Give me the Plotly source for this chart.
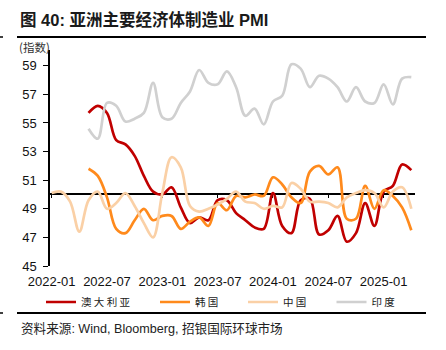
import plotly.graph_objects as go

months = [f"{y}-{m:02d}" for y in (2022, 2023, 2024, 2025) for m in range(1, 13)][:40]

australia = [None, None, None, None,
             55.7, 56.2, 55.7, 53.8, 53.5, 52.7, 51.3, 50.2,
             50.0, 50.5, 49.1, 48.0, 48.4, 48.2, 49.6, 49.6, 48.7, 48.2, 47.7, 47.6,
             50.1, 47.8, 47.3, 49.6, 49.7, 47.2, 47.5, 48.5, 46.7, 47.3, 49.4, 47.8,
             50.2, 50.6, 52.1, 51.7]
korea = [None, None, None, None,
         51.8, 51.3, 49.8, 47.6, 47.3, 48.2, 49.0, 48.2,
         48.5, 48.5, 47.6, 48.1, 48.4, 47.8, 49.4, 48.9, 49.9, 49.8, 50.0, 49.9,
         51.2, 50.7, 49.8, 49.4, 51.6, 52.0, 51.4, 51.9, 48.3, 48.3, 50.6, 49.0,
         50.3, 49.9, 49.1, 47.5]
china = [50.1, 50.2, 49.5, 47.4, 49.6, 50.2, 49.0, 49.4, 50.1, 49.2, 48.0, 47.0,
         50.1, 52.6, 51.9, 49.2, 48.8, 49.0, 49.3, 49.7, 50.2, 49.5, 49.4, 49.0,
         49.2, 49.1, 50.8, 50.4, 49.5, 49.5, 49.4, 49.1, 49.8, 50.1, 50.3, 50.1,
         49.1, 50.2, 50.5, 49.0]
india = [None, None, None, None,
         54.6, 53.9, 56.4, 56.2, 55.1, 55.3, 55.7, 57.8,
         55.4, 55.3, 56.4, 57.2, 58.7, 57.8, 57.7, 58.6, 57.5, 55.5, 56.0, 54.9,
         56.5, 56.9, 59.1, 58.8, 57.5, 58.3, 58.1, 57.5, 56.5, 57.5, 56.5, 56.4,
         57.7, 56.3, 58.1, 58.2]

series_names = ["澳大利亚", "韩国", "中国", "印度"]
series_values = [australia, korea, china, india]
series_colors = ["#C00000", "#FF8A1C", "#FAD0A6", "#D0D0D0"]

tick_labels = ["2022-01", "2022-07", "2023-01", "2023-07", "2024-01", "2024-07", "2025-01"]
y_ticks = [45, 47, 49, 51, 53, 55, 57, 59]

title_text = "<b>图 40: 亚洲主要经济体制造业 PMI</b>"
unit_text = "(指数)"
source_text = "资料来源: Wind, Bloomberg, 招银国际环球市场"

W, H = 446, 350
L, R, T, B = 50, 31, 50, 84
pw, ph = W - L - R, H - T - B


def px(x):
    return (x - L) / pw


def py(y):
    return (H - B - y) / ph


cjk = "Noto Sans CJK SC, Liberation Sans, sans-serif"
legend_ids = ["legend", "legend2", "legend3", "legend4"]
legend_x = [41, 155, 243, 331.5]

fig = go.Figure()
for name, vals, col, lid in zip(series_names, series_values, series_colors, legend_ids):
    fig.add_trace(go.Scatter(
        x=months, y=vals, name=" ".join(name), mode="lines", legend=lid,
        line=dict(color=col, width=2.7, shape="spline", smoothing=1.0),
        connectgaps=False, hoverinfo="skip"))

# invisible trace to host the axis drawn at y = 50
fig.add_trace(go.Scatter(x=months, y=china, xaxis="x2", yaxis="y", mode="lines",
                         line=dict(width=0, color="rgba(0,0,0,0)"),
                         showlegend=False, hoverinfo="skip"))

tick_font = dict(family="Liberation Sans, Arial, sans-serif", size=13, color="#111")

legends = {}
for lid, lx in zip(legend_ids, legend_x):
    legends[lid] = dict(orientation="h", x=px(lx), xanchor="left", y=py(302), yanchor="middle",
                        font=dict(family=cjk, size=10.5, color="#222"),
                        bgcolor="rgba(0,0,0,0)", borderwidth=0)

fig.update_layout(
    width=W, height=H,
    margin=dict(l=L, r=R, t=T, b=B),
    paper_bgcolor="white", plot_bgcolor="white",
    title=dict(text=title_text, x=20 / W, xanchor="left", y=1 - 20 / H, yanchor="middle",
               xref="container", yref="container",
               font=dict(family="Liberation Sans, Noto Sans CJK SC, sans-serif", size=16.5, color="#1a1a1a")),
    xaxis=dict(type="category", categoryorder="array", categoryarray=months,
               range=[-0.18, 39.4], tickvals=tick_labels, ticktext=tick_labels,
               showline=False, showgrid=False, zeroline=False, ticks="",
               tickfont=tick_font, ticklabelstandoff=6),
    xaxis2=dict(type="category", categoryorder="array", categoryarray=months,
                matches="x", overlaying="x", anchor="free", position=(50 - 45) / (60.1 - 45),
                showline=True, linecolor="black", linewidth=1.5, ticks="outside",
                ticklen=3, tickcolor="black", tickwidth=1, tickvals=tick_labels,
                showticklabels=False, showgrid=False, zeroline=False, layer="below traces"),
    yaxis=dict(range=[45, 60.1], tickvals=y_ticks, showline=True, linecolor="black",
               linewidth=1.5, ticks="outside", ticklen=5, tickcolor="black", tickwidth=1,
               showgrid=False, zeroline=False, tickfont=tick_font, ticklabelstandoff=4,
               layer="below traces"),
    showlegend=True,
    **legends,
)

rules = [(37, 17, 426), (313, 17, 426)]
shapes = []
for yy, x0, x1 in rules:
    shapes.append(dict(type="line", xref="paper", yref="paper", x0=px(x0), x1=px(x1),
                       y0=py(yy), y1=py(yy), line=dict(color="black", width=2)))
    shapes.append(dict(type="line", xref="paper", yref="paper", x0=px(0), x1=px(3),
                       y0=py(yy), y1=py(yy), line=dict(color="black", width=1.5)))
fig.update_layout(shapes=shapes)

fig.add_annotation(text=unit_text, xref="paper", yref="paper", x=px(17), y=py(47),
                   xanchor="left", yanchor="middle", showarrow=False,
                   font=dict(family=cjk, size=11.5, color="#333"))
fig.add_annotation(text=source_text, xref="paper", yref="paper", x=px(19), y=py(328),
                   xanchor="left", yanchor="middle", showarrow=False,
                   font=dict(family="Liberation Sans, Noto Sans CJK SC, sans-serif", size=12.6, color="#222"))

fig.write_html("out.html")
